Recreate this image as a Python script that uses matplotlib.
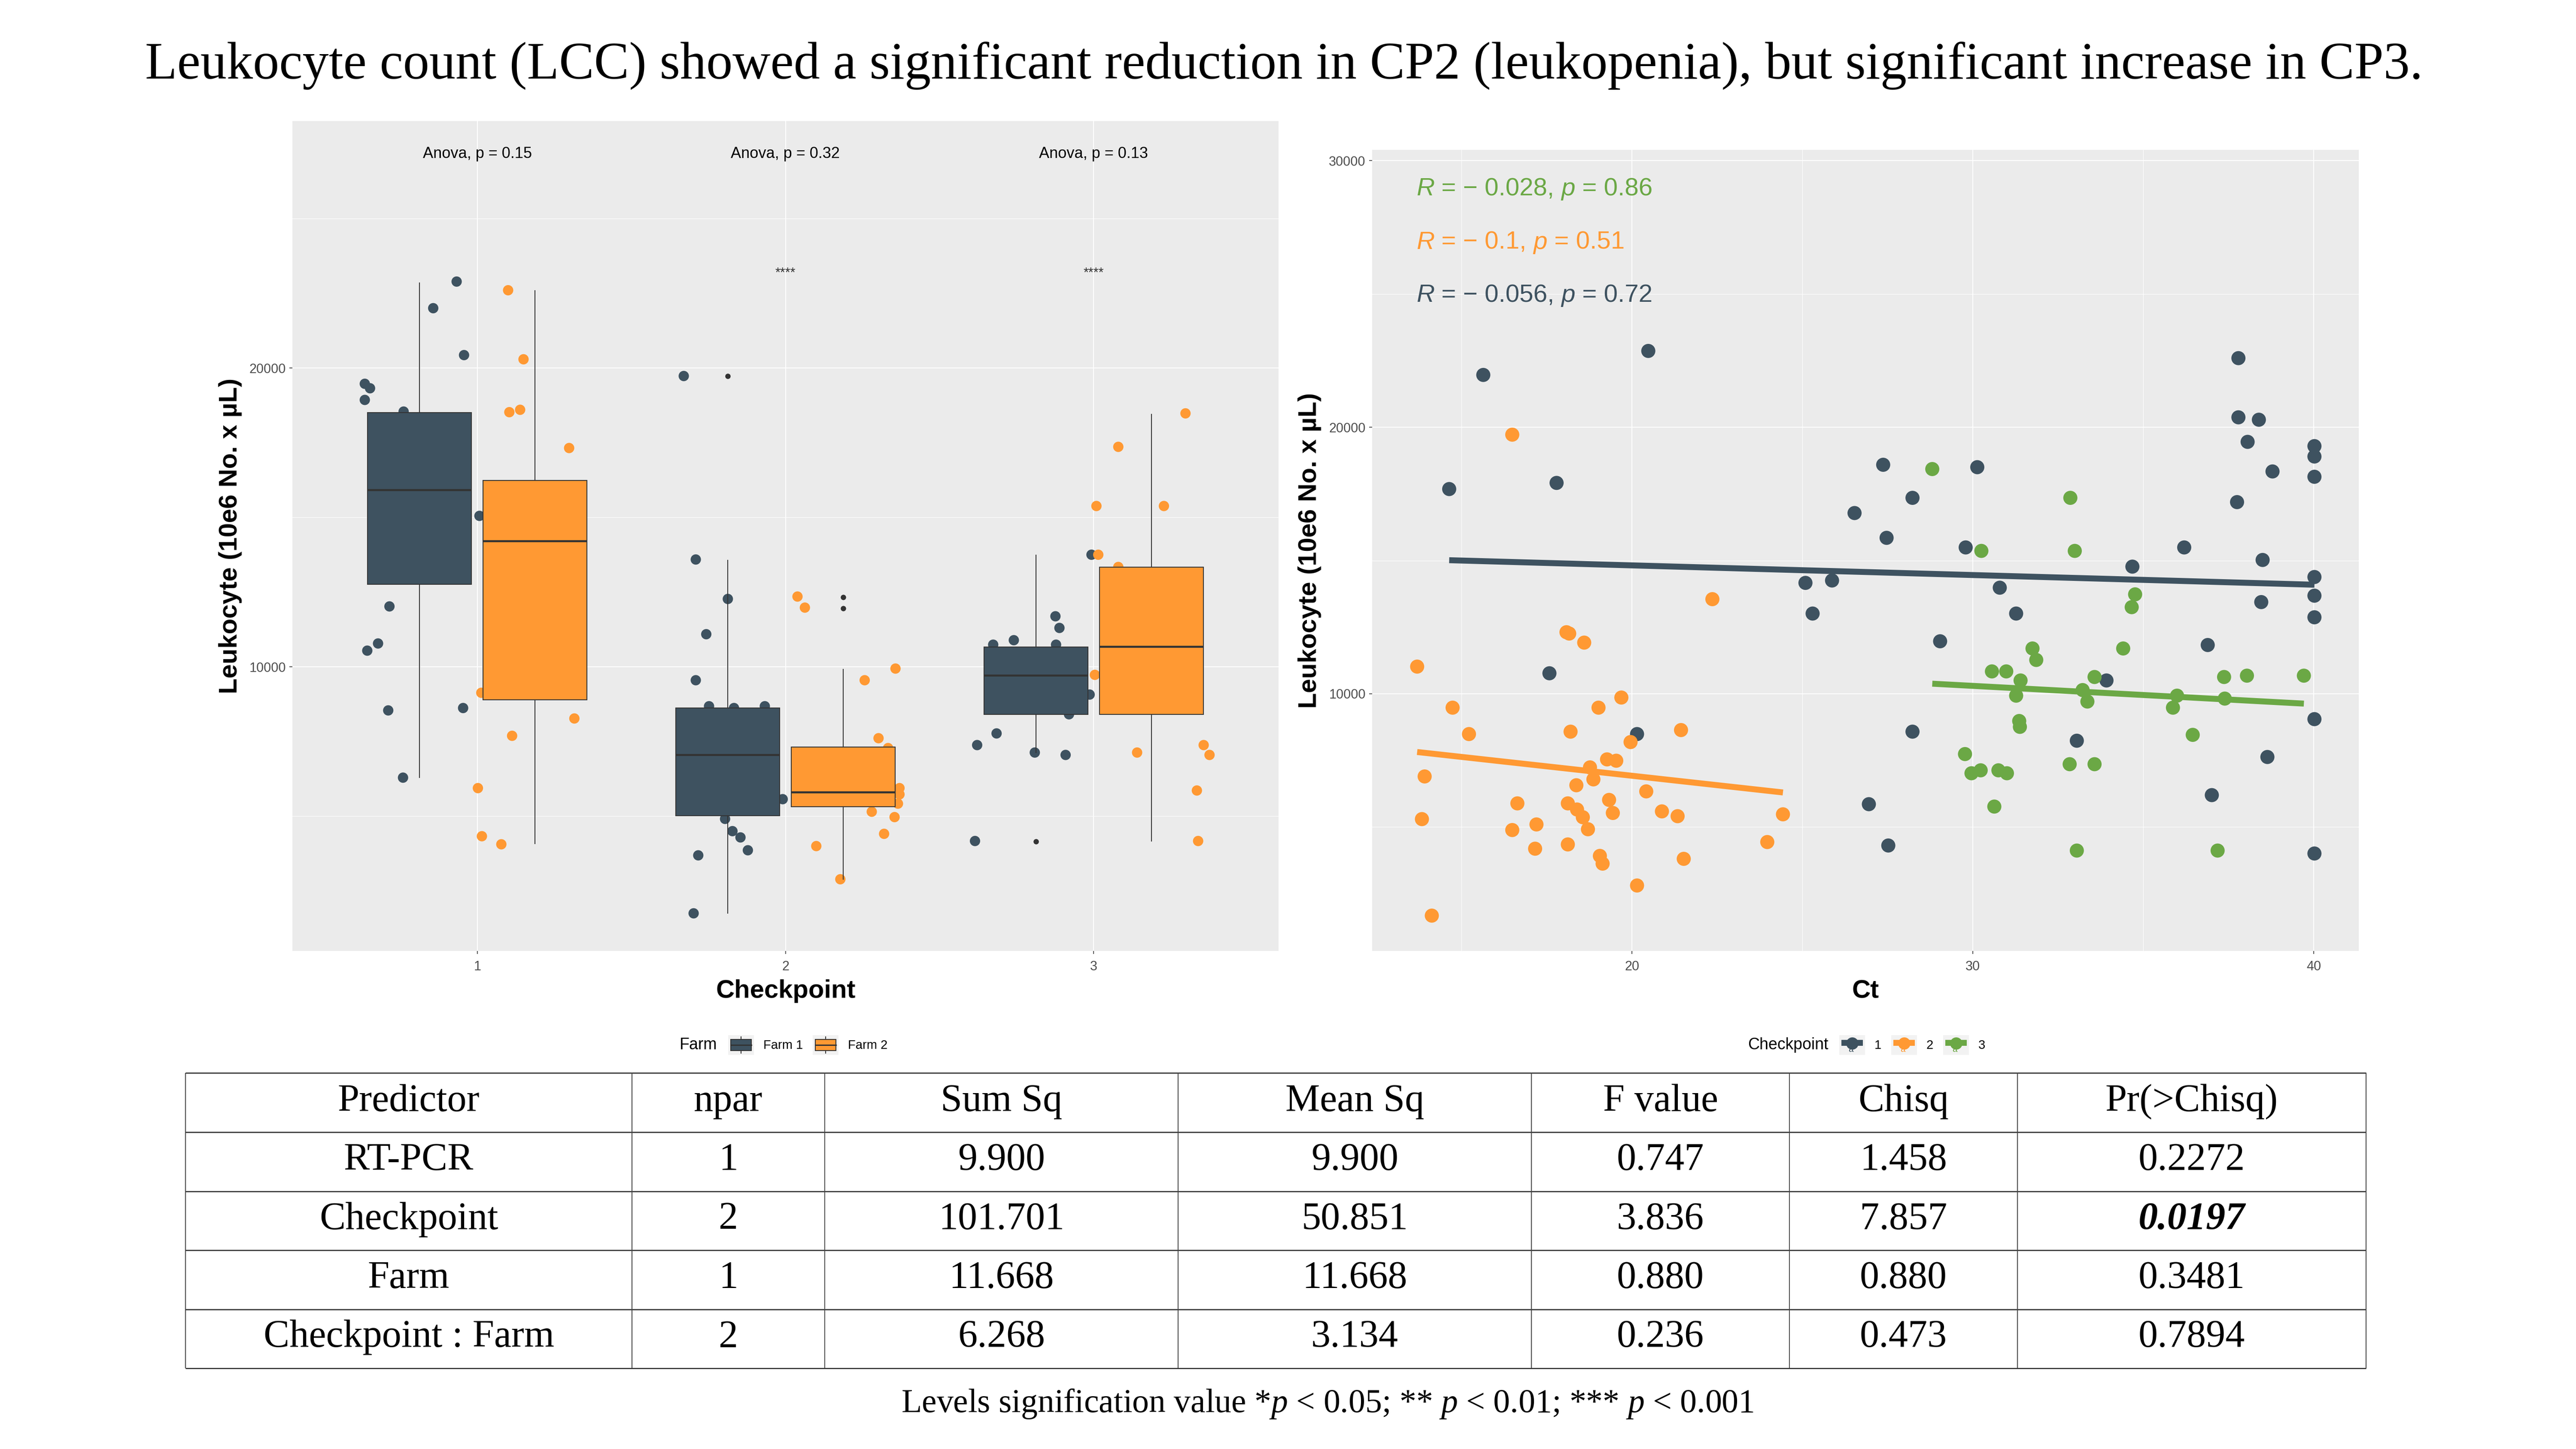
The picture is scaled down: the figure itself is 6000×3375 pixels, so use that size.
import numpy as np
import matplotlib.pyplot as plt
from matplotlib.patches import Rectangle, Patch
from matplotlib.lines import Line2D
from matplotlib.text import Text
from matplotlib.legend_handler import HandlerBase

plt.rcParams['font.family'] = ['Liberation Sans', 'DejaVu Sans']
plt.rcParams['mathtext.fontset'] = 'custom'
plt.rcParams['mathtext.rm'] = 'Liberation Serif'
plt.rcParams['mathtext.it'] = 'Liberation Serif:italic'

W, H = 6000, 3375
DARK = '#3E5260'
ORANGE = '#FF9933'
GREEN = '#6BA845'
PANEL = '#EBEBEB'
INK = '#333333'

# ---------------- data: left box plot ----------------
checkpoints = [1, 2, 3]
farm_names = ['Farm 1', 'Farm 2']

f1_whislo = [6290, 1750, 7130]
f1_q1 = [12760, 5010, 8410]
f1_med = [15920, 7050, 9710]
f1_q3 = [18500, 8620, 10660]
f1_whishi = [22850, 13570, 13730]
f1_fliers = [[], [19730], [4150]]

f2_whislo = [4080, 2890, 4170]
f2_q1 = [8890, 5320, 8410]
f2_med = [14210, 5810, 10680]
f2_q3 = [16230, 7320, 13340]
f2_whishi = [22580, 9920, 18450]
f2_fliers = [[], [12330, 11960], []]

# jittered observations (x = checkpoint position after jitter)
cp1_f1_x = [0.933, 0.857, 0.957, 0.635, 0.652, 0.635, 0.761, 1.007, 0.715, 0.678, 0.643, 0.711, 0.954, 0.759]
cp1_f1_y = [22890, 22000, 20430, 19470, 19320, 18930, 18540, 15050, 12020, 10780, 10540, 8540, 8620, 6290]
cp1_f2_x = [1.100, 1.150, 1.104, 1.139, 1.298, 1.013, 1.315, 1.113, 1.002, 1.015, 1.078]
cp1_f2_y = [22600, 20290, 18520, 18600, 17320, 9130, 8270, 7690, 5940, 4330, 4060]
cp2_f1_x = [1.670, 1.709, 1.813, 1.743, 1.709, 1.752, 1.833, 1.933, 1.991, 1.804, 1.828, 1.854, 1.878, 1.717, 1.702]
cp2_f1_y = [19730, 13590, 12270, 11090, 9550, 8680, 8620, 8680, 5570, 4910, 4500, 4290, 3860, 3690, 1750]
cp2_f2_x = [2.039, 2.063, 2.357, 2.257, 2.302, 2.333, 2.370, 2.370, 2.365, 2.280, 2.354, 2.320, 2.100, 2.178]
cp2_f2_y = [12350, 11980, 9940, 9550, 7610, 7280, 5940, 5730, 5420, 5150, 4970, 4410, 4000, 2890]
cp3_f1_x = [2.993, 2.876, 2.889, 2.741, 2.674, 2.878, 2.987, 2.920, 2.685, 2.622, 2.809, 2.909, 2.615]
cp3_f1_y = [13750, 11690, 11300, 10890, 10740, 10740, 9070, 8410, 7770, 7380, 7130, 7050, 4170]
cp3_f2_x = [3.298, 3.080, 3.009, 3.228, 3.015, 3.080, 3.004, 3.141, 3.357, 3.376, 3.335, 3.339]
cp3_f2_y = [18480, 17360, 15380, 15380, 13750, 13340, 9730, 7130, 7380, 7050, 5860, 4170]

anova_labels = ['Anova, p = 0.15', 'Anova, p = 0.32', 'Anova, p = 0.13']
signif_labels = ['', '****', '****']

# ---------------- data: right scatter ----------------
ct_cp1 = [20.48, 15.64, 14.64, 17.79, 27.37, 30.13, 28.23, 26.53, 27.47, 29.79, 25.09, 25.87, 25.30, 30.79,
          31.27, 29.04, 34.68, 36.20, 37.79, 37.79, 38.39, 38.06, 38.79, 37.75, 38.50, 40.02, 40.02, 40.02,
          40.02, 40.02, 40.02, 38.46, 36.89, 33.92, 17.58, 20.15, 28.23, 33.05, 38.64, 37.01, 26.95, 27.52,
          40.02, 40.02]
lcc_cp1 = [22860, 21960, 17680, 17910, 18590, 18500, 17350, 16780, 15850, 15490, 14160, 14250, 13010, 13980,
           13010, 11970, 14770, 15490, 22590, 20370, 20280, 19450, 18340, 17190, 15020, 19290, 18900, 18140,
           14380, 13680, 12870, 13440, 11830, 10500, 10770, 8490, 8580, 8240, 7630, 6200, 5860, 4310,
           9050, 4010]
ct_cp2 = [16.49, 22.36, 18.08, 18.16, 18.60, 13.70, 14.74, 19.69, 19.02, 15.22, 18.20, 21.44, 19.96, 19.27,
          19.54, 18.77, 18.87, 18.37, 13.92, 16.64, 18.12, 18.39, 18.56, 19.33, 19.44, 20.42, 20.88, 21.34,
          13.84, 16.49, 17.20, 18.71, 17.16, 18.12, 19.06, 19.14, 21.52, 20.15, 23.97, 24.43, 14.13]
lcc_cp2 = [19720, 13550, 12310, 12260, 11920, 11020, 9480, 9860, 9480, 8490, 8580, 8640, 8190, 7540,
           7490, 7240, 6790, 6570, 6900, 5890, 5890, 5660, 5370, 6020, 5530, 6340, 5590, 5410,
           5300, 4890, 5100, 4920, 4190, 4350, 3920, 3630, 3810, 2810, 4440, 5480, 1680]
ct_cp3 = [28.81, 32.86, 30.25, 32.99, 34.76, 34.66, 34.41, 31.75, 31.86, 30.56, 30.98, 31.40, 33.57, 31.27,
          33.22, 33.36, 35.99, 35.87, 37.39, 38.04, 37.37, 39.71, 36.45, 29.77, 29.96, 30.23, 30.75, 31.00,
          31.36, 31.38, 32.84, 33.57, 30.63, 33.05, 37.18]
lcc_cp3 = [18430, 17350, 15360, 15360, 13730, 13250, 11700, 11700, 11270, 10840, 10840, 10500, 10630, 9930,
           10140, 9710, 9930, 9480, 9820, 10680, 10630, 10680, 8460, 7740, 7020, 7130, 7130, 7020,
           8980, 8760, 7360, 7360, 5770, 4120, 4120]

cor_r = ['\u2212 0.028', '\u2212 0.1', '\u2212 0.056']   # checkpoint 3, 2, 1 (top to bottom)
cor_p = ['0.86', '0.51', '0.72']
cor_y = [28690, 26690, 24700]

# ---------------- data: table ----------------
col_names = ['Predictor', 'npar', 'Sum Sq', 'Mean Sq', 'F value', 'Chisq', 'Pr(>Chisq)']
predictors = ['RT-PCR', 'Checkpoint', 'Farm', 'Checkpoint : Farm']
npar = [1, 2, 1, 2]
sum_sq = [9.900, 101.701, 11.668, 6.268]
mean_sq = [9.900, 50.851, 11.668, 3.134]
f_value = [0.747, 3.836, 0.880, 0.236]
chisq = [1.458, 7.857, 0.880, 0.473]
pr_chisq = [0.2272, 0.0197, 0.3481, 0.7894]


def style_panel(ax):
    ax.set_facecolor(PANEL)
    for s in ax.spines.values():
        s.set_visible(False)
    ax.set_axisbelow(True)
    ax.grid(which='major', color='white', lw=1.4)
    ax.grid(which='minor', color='white', lw=0.8)
    ax.tick_params(which='major', length=5, width=1.2, color=INK, labelcolor='#4D4D4D', labelsize=22)
    ax.tick_params(which='minor', length=0)
    ax.tick_params(axis='x', pad=11)
    ax.tick_params(axis='y', pad=6)


class BoxKey(HandlerBase):
    def create_artists(self, legend, orig_handle, xdescent, ydescent, width, height, fontsize, trans):
        x0, y0 = -xdescent, -ydescent
        bg = Rectangle((x0, y0), width, height, facecolor='#F2F2F2', edgecolor='none', transform=trans)
        bx = Rectangle((x0 + 0.1 * width, y0 + 0.22 * height), 0.8 * width, 0.56 * height,
                       facecolor=orig_handle.get_facecolor(), edgecolor=INK, lw=1.5, transform=trans)
        med = Line2D([x0 + 0.1 * width, x0 + 0.9 * width], [y0 + 0.5 * height] * 2, color=INK, lw=2.2, transform=trans)
        w1 = Line2D([x0 + 0.5 * width] * 2, [y0 + 0.08 * height, y0 + 0.22 * height], color=INK, lw=1.5, transform=trans)
        w2 = Line2D([x0 + 0.5 * width] * 2, [y0 + 0.78 * height, y0 + 0.92 * height], color=INK, lw=1.5, transform=trans)
        return [bg, bx, med, w1, w2]


class PointKey(HandlerBase):
    def create_artists(self, legend, orig_handle, xdescent, ydescent, width, height, fontsize, trans):
        x0, y0 = -xdescent, -ydescent
        c = orig_handle.get_facecolor()
        bg = Rectangle((x0, y0), width, height, facecolor='#F2F2F2', edgecolor='none', transform=trans)
        ln = Line2D([x0 + 0.08 * width, x0 + 0.92 * width], [y0 + 0.6 * height] * 2, color=c,
                    lw=0.3 * height, solid_capstyle='butt', transform=trans)
        pt = Line2D([x0 + 0.5 * width], [y0 + 0.58 * height], marker='o', markersize=0.62 * height,
                    markerfacecolor=c, markeredgecolor='none', linestyle='none', transform=trans)
        tx = Text(x0 + 0.45 * width, y0 + 0.06 * height, 'a', color=c, fontsize=0.45 * height,
                  ha='center', va='bottom', transform=trans)
        return [bg, ln, pt, tx]


fig = plt.figure(figsize=(W / 100, H / 100), dpi=100)

# ---------------- left panel ----------------
ax1 = fig.add_axes([681 / W, 1 - 2215 / H, (2978 - 681) / W, (2215 - 282) / H])
style_panel(ax1)
dodge = 0.1875
bw = 0.3375
point_sets = [
    (cp1_f1_x, cp1_f1_y, DARK), (cp1_f2_x, cp1_f2_y, ORANGE),
    (cp2_f1_x, cp2_f1_y, DARK), (cp2_f2_x, cp2_f2_y, ORANGE),
    (cp3_f1_x, cp3_f1_y, DARK), (cp3_f2_x, cp3_f2_y, ORANGE),
]
for xs, ys, col in point_sets:
    ax1.scatter(xs, ys, s=300, color=col, edgecolors='none', zorder=1.5)

farm_stats = [
    (f1_whislo, f1_q1, f1_med, f1_q3, f1_whishi, f1_fliers, -dodge, DARK),
    (f2_whislo, f2_q1, f2_med, f2_q3, f2_whishi, f2_fliers, dodge, ORANGE),
]
for lo, q1, med, q3, hi, fl, off, col in farm_stats:
    stats = [dict(whislo=lo[i], q1=q1[i], med=med[i], q3=q3[i], whishi=hi[i], fliers=fl[i])
             for i in range(len(checkpoints))]
    ax1.bxp(stats, positions=[c + off for c in checkpoints], widths=bw, patch_artist=True,
            showcaps=False, zorder=2,
            boxprops=dict(facecolor=col, edgecolor=INK, lw=1.5),
            medianprops=dict(color=INK, lw=3.4, solid_capstyle='butt'),
            whiskerprops=dict(color=INK, lw=1.5),
            flierprops=dict(marker='o', markerfacecolor=INK, markeredgecolor='none', markersize=9))

for c, lab, sig in zip(checkpoints, anova_labels, signif_labels):
    ax1.text(c, 27155, lab, ha='center', va='center', fontsize=26, color='black')
    if sig:
        ax1.text(c, 23160, sig, ha='center', va='center', fontsize=22, color=INK)

ax1.set_xlim(0.4, 3.6)
ax1.set_ylim(490, 28261)
ax1.set_xticks(checkpoints)
ax1.set_xticklabels([str(c) for c in checkpoints])
ax1.set_yticks([10000, 20000])
ax1.set_yticks([5000, 15000, 25000], minor=True)

# ---------------- right panel ----------------
ax2 = fig.add_axes([3196 / W, 1 - 2215 / H, (5494 - 3196) / W, (2215 - 349) / H])
style_panel(ax2)
groups = [(ct_cp1, lcc_cp1, DARK), (ct_cp2, lcc_cp2, ORANGE), (ct_cp3, lcc_cp3, GREEN)]
for ct, lcc, col in groups:
    ax2.scatter(ct, lcc, s=560, color=col, edgecolors='none', zorder=2)
for ct, lcc, col in groups:
    k, b = np.polyfit(ct, lcc, 1)
    xs = np.array([min(ct), max(ct)])
    ax2.plot(xs, k * xs + b, color=col, lw=10, solid_capstyle='butt', zorder=3)

for r, p, y, col in zip(cor_r, cor_p, cor_y, [GREEN, ORANGE, DARK]):
    t = ax2.text(13.68, y, 'R', style='italic', color=col, fontsize=42, ha='left', va='baseline')
    for piece, st in [(' = ' + r + ', ', 'normal'), ('p', 'italic'), (' = ' + p, 'normal')]:
        t = ax2.annotate(piece, xy=(1, 0), xycoords=t, ha='left', va='bottom',
                         style=st, color=col, fontsize=42)

ax2.set_xlim(12.38, 41.32)
ax2.set_ylim(354, 30403)
ax2.set_xticks([20, 30, 40])
ax2.set_xticks([15, 25, 35], minor=True)
ax2.set_yticks([10000, 20000, 30000])
ax2.set_yticks([5000, 15000, 25000], minor=True)

# axis titles
ylab = 'Leukocyte (10e6 No. x \u00b5L)'
fig.text(536 / W, 1 - 1248 / H, ylab, rotation=90, ha='center', va='center', fontsize=43, fontweight='bold')
fig.text(3050 / W, 1 - 1282 / H, ylab, rotation=90, ha='center', va='center', fontsize=43, fontweight='bold')
fig.text(1830 / W, 1 - 2309 / H, 'Checkpoint', ha='center', va='center', fontsize=43, fontweight='bold')
fig.text(4345 / W, 1 - 2309 / H, 'Ct', ha='center', va='center', fontsize=43, fontweight='bold')

# legends
leg_y = 1 - 2434 / H
fig.text(1583 / W, leg_y, 'Farm', ha='left', va='center', fontsize=27)
fig.legend([Patch(facecolor=DARK), Patch(facecolor=ORANGE)], farm_names,
           handler_map={Patch: BoxKey()}, loc='center left', bbox_to_anchor=(1696 / W, leg_y),
           ncol=2, frameon=False, fontsize=21, handlelength=2.05, handleheight=2.05,
           handletextpad=0.75, columnspacing=0.8, borderpad=0, borderaxespad=0)
fig.text(4071 / W, leg_y, 'Checkpoint', ha='left', va='center', fontsize=27)
fig.legend([Patch(facecolor=DARK), Patch(facecolor=ORANGE), Patch(facecolor=GREEN)],
           [str(c) for c in checkpoints], handler_map={Patch: PointKey()}, loc='center left',
           bbox_to_anchor=(4284 / W, leg_y), ncol=3, frameon=False, fontsize=21,
           handlelength=2.05, handleheight=2.05, handletextpad=0.75, columnspacing=0.8,
           borderpad=0, borderaxespad=0)

# title
fig.text(2991 / W, 1 - 183 / H, 'Leukocyte count (LCC) showed a significant reduction in CP2 (leukopenia), '
         'but significant increase in CP3.', ha='center', va='baseline', fontsize=88, family='Liberation Serif')

# ---------------- table ----------------
tab = fig.add_axes([0, 0, 1, 1])
tab.set_xlim(0, W)
tab.set_ylim(H, 0)
tab.axis('off')
col_edges = [432, 1472, 1921, 2744, 3567, 4168, 4699, 5511]
row_edges = [2499, 2637, 2775, 2912, 3050, 3187]
tab.hlines(row_edges, col_edges[0], col_edges[-1], color='#222222', lw=1.8)
tab.vlines(col_edges, row_edges[0], row_edges[-1], color='#444444', lw=1.4)
centers = [(a + b) / 2 for a, b in zip(col_edges[:-1], col_edges[1:])]
rows_mid = [(a + b) / 2 for a, b in zip(row_edges[:-1], row_edges[1:])]
serif = dict(family='Liberation Serif', fontsize=65, ha='center', va='baseline')
for cx, name in zip(centers, col_names):
    tab.text(cx, rows_mid[0] + 20, name, **serif)
for i in range(len(predictors)):
    y = rows_mid[i + 1] + 19
    cells = [predictors[i], '%d' % npar[i], '%.3f' % sum_sq[i], '%.3f' % mean_sq[i],
             '%.3f' % f_value[i], '%.3f' % chisq[i], '%.4f' % pr_chisq[i]]
    for j, (cx, val) in enumerate(zip(centers, cells)):
        kw = dict(serif)
        if j == len(cells) - 1 and pr_chisq[i] < 0.05:
            kw.update(fontweight='bold', style='italic')
        tab.text(cx, y, val, **kw)

tab.text(3092, 3289, r'Levels signification value *$p$ < 0.05; ** $p$ < 0.01; *** $p$ < 0.001',
         family='Liberation Serif', fontsize=56, ha='center', va='baseline')

fig.savefig('out.png', dpi=100)
